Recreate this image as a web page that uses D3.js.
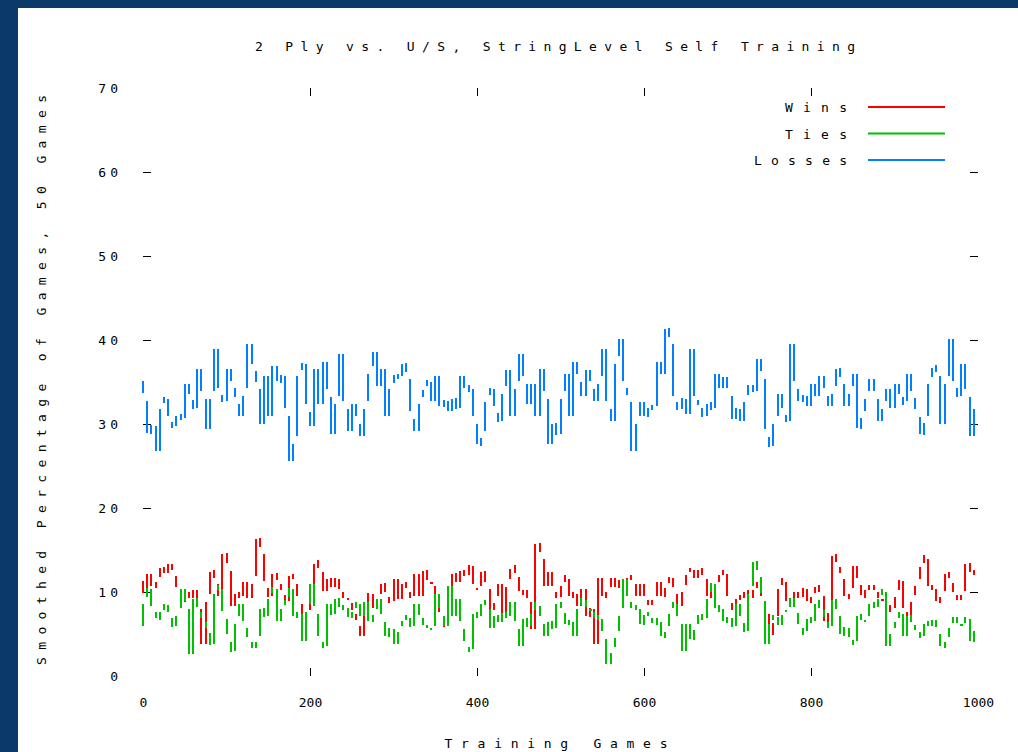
<!DOCTYPE html>
<html lang="en">
<head>
<meta charset="UTF-8">
<title>Wins / Ties / Losses during self training</title>
<script src="https://cdn.jsdelivr.net/npm/d3@7"></script>
<style>
  html, body { margin: 0; padding: 0; background: #0b3a6a; }
  svg { display: block; }
  text { font-family: "DejaVu Sans Mono", monospace; font-size: 13px; fill: #000; }
  .ylab text { letter-spacing: 4px; }
</style>
</head>
<body>
<svg id="chart" width="1018" height="752"></svg>
<script>
// percent of games, one value every 5 training games (0..1000)
const wins = [
  11.8, 9.4, 12.6, 10.2, 11.4, 13.2, 12.0, 13.6, 12.4, 10.2, 8.5,
  10.2, 9.0, 10.6, 8.5, 3.3, 9.3, 12.9, 11.4, 9.0, 15.0,
  13.0, 7.9, 10.2, 9.0, 11.7, 8.8, 11.4, 16.8, 15.0, 10.8,
  9.0, 12.6, 11.2, 10.0, 8.5, 12.4, 11.4, 9.0, 4.9, 7.5,
  9.3, 13.8, 12.9, 9.6, 12.0, 10.2, 12.0, 10.0, 9.3, 9.0,
  7.6, 6.4, 4.3, 8.5, 10.2, 7.6, 9.3, 11.4, 9.6, 8.5,
  12.0, 8.7, 11.4, 10.2, 9.0, 12.6, 9.0, 13.0, 11.1, 11.2,
  8.7, 7.3, 5.5, 9.0, 12.6, 10.8, 12.9, 11.7, 13.6, 10.5,
  10.2, 12.9, 10.8, 7.5, 9.0, 11.4, 6.7, 11.1, 13.2, 12.3,
  9.6, 10.2, 9.3, 5.1, 16.2, 14.4, 10.2, 12.9, 10.2, 9.0,
  11.2, 12.0, 9.0, 10.2, 7.9, 10.8, 6.7, 8.5, 3.3, 12.1,
  9.0, 10.2, 12.0, 10.2, 11.7, 10.2, 12.0, 11.4, 9.0, 11.4,
  9.0, 8.5, 9.0, 11.7, 9.0, 10.8, 12.0, 10.2, 7.9, 10.5,
  12.4, 12.9, 11.4, 12.9, 12.0, 9.0, 10.2, 11.2, 12.0, 12.6,
  9.0, 7.5, 9.6, 9.0, 10.2, 9.3, 10.2, 11.4, 9.0, 7.9,
  4.5, 6.7, 10.8, 11.7, 8.5, 9.0, 10.2, 9.0, 10.8, 8.5,
  9.6, 10.8, 10.0, 6.1, 7.9, 14.8, 13.2, 12.0, 9.0, 10.0,
  13.6, 11.2, 9.3, 10.2, 10.8, 10.2, 9.0, 9.0, 8.5, 7.6,
  9.9, 11.8, 7.6, 6.7, 9.3, 11.1, 13.5, 14.4, 10.2, 10.8,
  8.5, 9.6, 12.6, 11.4, 9.6, 9.0, 9.6, 13.8, 12.0, 12.6
];
const ties = [
  5.5, 9.0, 10.8, 7.9, 6.7, 7.6, 8.8, 7.3, 5.5, 7.6, 10.8,
  8.5, 2.1, 9.6, 7.9, 6.7, 5.5, 3.3, 10.2, 10.8, 7.3,
  4.5, 2.5, 6.7, 9.0, 6.1, 4.3, 3.1, 4.3, 8.5, 6.7,
  9.6, 10.8, 6.1, 8.5, 9.0, 10.8, 6.7, 7.9, 3.7, 8.1,
  11.4, 7.9, 4.3, 3.1, 9.0, 6.9, 9.6, 7.9, 8.5, 6.7,
  7.9, 9.0, 6.7, 9.3, 6.1, 7.6, 9.6, 6.9, 4.3, 6.1,
  3.3, 5.7, 6.7, 7.3, 5.5, 9.0, 6.9, 6.1, 5.7, 5.5,
  10.2, 7.6, 5.5, 11.2, 6.7, 9.6, 6.1, 3.7, 2.7, 7.9,
  6.7, 9.0, 8.5, 5.2, 7.6, 6.1, 7.9, 6.7, 9.3, 6.1,
  3.1, 7.3, 5.5, 7.9, 8.8, 6.7, 4.3, 6.9, 5.2, 9.0,
  7.9, 5.8, 6.9, 4.3, 8.5, 9.3, 7.9, 7.9, 6.7, 7.3,
  4.9, 1.0, 3.1, 4.9, 7.6, 12.0, 9.0, 7.9, 8.5, 5.7,
  7.6, 7.1, 6.1, 6.9, 4.3, 5.5, 7.9, 9.0, 6.7, 2.5,
  6.7, 3.9, 5.8, 7.6, 6.4, 9.6, 11.4, 7.6, 8.5, 6.1,
  7.3, 5.5, 9.0, 6.7, 4.9, 10.2, 14.0, 12.3, 9.4, 3.3,
  6.7, 7.3, 5.7, 7.6, 7.9, 9.6, 7.9, 5.7, 4.9, 7.3,
  6.1, 9.0, 8.1, 6.7, 5.5, 9.5, 7.6, 4.5, 6.1, 4.3,
  3.7, 7.6, 6.4, 6.7, 9.0, 7.9, 9.5, 10.5, 3.1, 5.5,
  6.7, 7.9, 4.3, 7.6, 6.1, 5.5, 4.3, 6.7, 5.7, 6.9,
  5.5, 3.1, 4.3, 6.1, 7.3, 6.1, 6.1, 7.3, 3.7, 5.7
];
const losses = [
  35.6, 33.2, 28.5, 30.2, 26.3, 32.3, 33.5, 30.5, 29.3, 31.4,
  30.2, 35.2, 33.2, 31.4, 37.0, 33.5, 28.9, 33.5, 39.4, 33.8,
  32.3, 37.0, 34.6, 32.9, 30.5, 33.8, 40.0, 36.7, 34.6, 29.5,
  36.2, 30.5, 37.4, 34.6, 36.2, 31.4, 25.1, 28.1, 36.2, 37.6,
  31.9, 29.3, 37.0, 31.9, 37.9, 33.7, 28.3, 32.9, 38.8, 32.3,
  28.7, 32.9, 30.5, 28.1, 32.3, 36.4, 39.0, 34.0, 37.0, 30.5,
  34.6, 36.2, 35.2, 37.6, 35.8, 31.1, 28.7,
  32.9, 34.3, 35.5, 32.3, 36.2, 31.7, 33.1, 31.1, 33.5, 31.4,
  36.2, 33.8, 34.6, 30.5, 27.1, 28.7, 33.1, 34.6, 31.7, 29.9,
  34.0, 36.9, 30.5, 34.6, 38.8, 35.2, 31.9, 35.2, 30.5, 37.0,
  33.5, 27.1, 30.5, 28.3, 33.5, 36.4, 30.5, 37.9, 35.5, 32.9,
  36.9, 34.6, 32.3, 35.2, 39.4, 32.3, 29.9, 37.6, 40.6, 34.6,
  33.1, 26.3, 30.5, 33.1, 30.5, 32.3, 31.7,
  37.9, 35.5, 41.8, 40.0, 32.9, 31.4, 33.5, 30.7, 39.4, 32.9,
  32.3, 30.5, 32.9, 31.4, 36.4, 33.8, 36.1, 33.8, 30.1, 32.3,
  29.9, 33.1, 35.0, 33.5, 38.2, 35.8, 28.9, 26.9, 30.5, 34.0,
  31.4, 29.9, 40.0, 34.6, 32.3, 33.8, 31.7, 35.2, 32.9, 36.2,
  33.8, 31.7, 34.0, 37.0, 35.2, 31.7, 34.0, 36.4, 29.0, 31.1,
  33.5, 35.8, 33.5, 29.9, 32.3, 34.6, 31.4, 35.2, 33.2, 32.3,
  36.4, 33.5, 31.3, 28.3, 30.5, 35.2, 37.0, 36.2, 29.5, 35.2,
  40.6, 34.6, 32.9, 37.6, 33.7, 28.1, 32.3
];
const gameStep = 5;
const xTicks = [0, 200, 400, 600, 800, 1000];
const yTicks = [0, 10, 20, 30, 40, 50, 60, 70];
const seriesNames = ["Wins", "Ties", "Losses"];
const seriesColors = ["#ff0000", "#00c000", "#0080ff"];

const titleText = "2 Ply vs. U/S, StringLevel Self Training";
const xLabel = "Training Games";
const yLabel = "Smoothed Percentage of Games, 50 Games";

const svg = d3.select("#chart");

// white plot card on the dark page
svg.append("rect")
  .attr("x", 18).attr("y", 8)
  .attr("width", 1000).attr("height", 744)
  .attr("fill", "#fff");

const x = d3.scaleLinear().domain([0, 1000]).range([143, 978]);
const y = d3.scaleLinear().domain([0, 70]).range([676, 88]);

// inner tick marks only, no border line; end ticks dropped like the source
const innerY = yTicks.slice(1, -1), innerX = xTicks.slice(1, -1);
svg.append("g")
  .attr("class", "ylab")
  .attr("transform", `translate(${x(0)},0)`)
  .call(d3.axisLeft(y).tickValues(yTicks).tickSizeInner(-8).tickSizeOuter(0).tickPadding(21))
  .call(g => g.select(".domain").remove())
  .call(g => g.selectAll(".tick line").filter(d => !innerY.includes(d)).remove());
svg.append("g")
  .attr("transform", `translate(${x(1000)},0)`)
  .call(d3.axisRight(y).tickValues(innerY).tickSizeInner(-8).tickSizeOuter(0).tickFormat(""))
  .call(g => g.select(".domain").remove());
svg.append("g")
  .attr("transform", `translate(0,${y(0)})`)
  .call(d3.axisBottom(x).tickValues(xTicks).tickSizeInner(-8).tickSizeOuter(0).tickPadding(22)
    .tickFormat(d3.format("d")))
  .call(g => g.select(".domain").remove())
  .call(g => g.selectAll(".tick line").filter(d => !innerX.includes(d)).remove());
svg.append("g")
  .attr("transform", `translate(0,${y(70)})`)
  .call(d3.axisTop(x).tickValues(innerX).tickSizeInner(-8).tickSizeOuter(0).tickFormat(""))
  .call(g => g.select(".domain").remove());

// each step of the smoothed curve shows as a short vertical stroke,
// trimmed a little so neighbouring steps read as separate dashes
function stepPath(vals) {
  let p = "";
  for (let i = 0; i < vals.length - 1; i++) {
    const xi = Math.round(x(i * gameStep));
    let y0 = y(vals[i]), y1 = y(vals[i + 1]);
    const len = Math.abs(y1 - y0);
    if (len < 1) { p += `M${xi - 1},${y0}h3`; continue; }
    const cut = len > 8 ? Math.min(4, len * 0.2) : 0;
    const dir = y1 > y0 ? 1 : -1;
    y0 += dir * cut; y1 -= dir * cut;
    p += `M${xi},${y0}V${y1}`;
  }
  return p;
}

[wins, ties, losses].forEach((vals, k) => {
  svg.append("path")
    .attr("d", stepPath(vals))
    .attr("fill", "none")
    .attr("stroke", seriesColors[k])
    .attr("stroke-width", 2)
    .attr("shape-rendering", "crispEdges");
});

// legend
const legend = svg.append("g");
seriesNames.forEach((name, k) => {
  const ly = 107 + k * 26.5;
  legend.append("text")
    .attr("x", 847).attr("y", ly + 5)
    .attr("text-anchor", "end")
    .attr("textLength", name.length * 15.5)
    .attr("lengthAdjust", "spacing")
    .text(name);
  legend.append("line")
    .attr("x1", 868).attr("x2", 945)
    .attr("y1", ly).attr("y2", ly)
    .attr("stroke", seriesColors[k])
    .attr("stroke-width", 2);
});

svg.append("text")
  .attr("x", 555).attr("y", 51)
  .attr("text-anchor", "middle")
  .attr("textLength", 600).attr("lengthAdjust", "spacing")
  .text(titleText);

svg.append("text")
  .attr("x", 556).attr("y", 748)
  .attr("text-anchor", "middle")
  .attr("textLength", 223).attr("lengthAdjust", "spacing")
  .text(xLabel);

svg.append("text")
  .attr("transform", "translate(46,380) rotate(-90)")
  .attr("text-anchor", "middle")
  .attr("textLength", 570).attr("lengthAdjust", "spacing")
  .text(yLabel);
</script>
</body>
</html>
